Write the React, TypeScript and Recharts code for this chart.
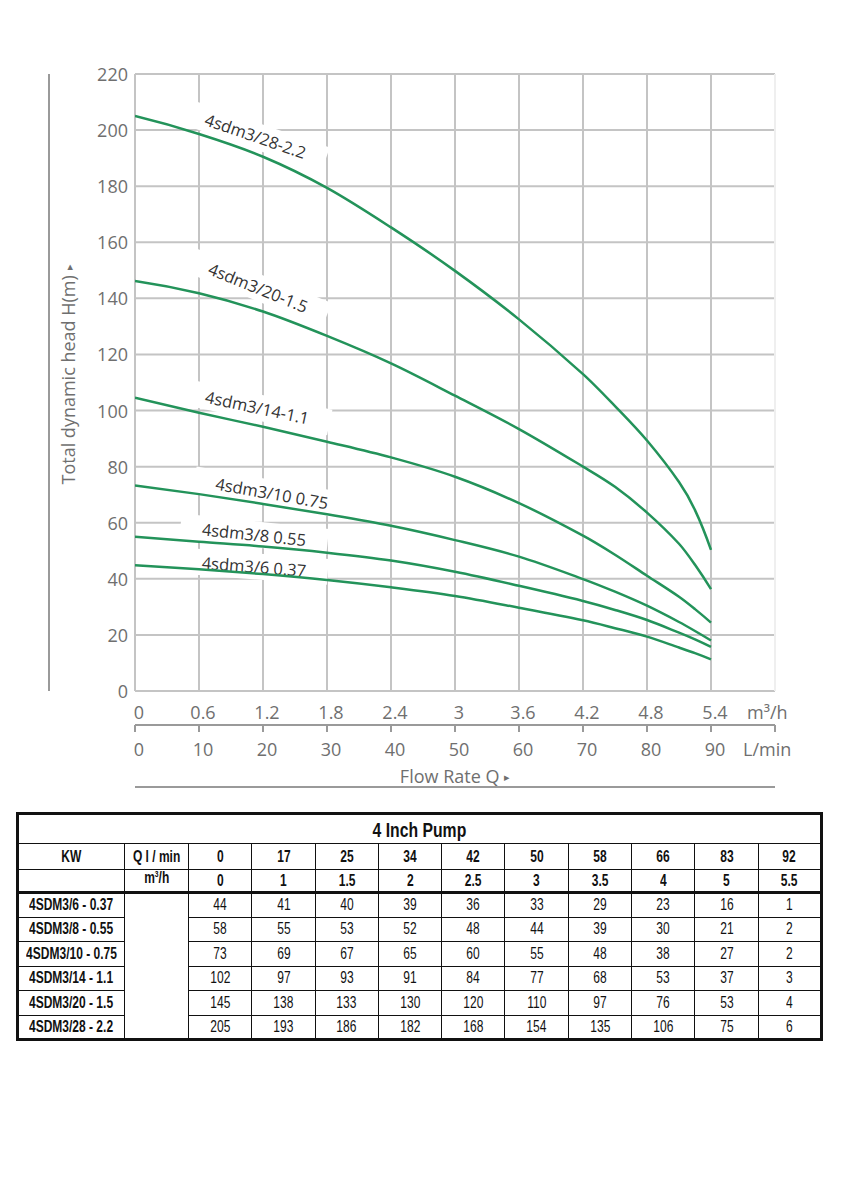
import React from "react";
import { LineChart, Line, XAxis, YAxis, CartesianGrid, ReferenceDot } from "recharts";

// flow points (m³/h)
const FLOW = [0, 0.6, 1.2, 1.8, 2.4, 3, 3.6, 4.2, 4.5, 4.8, 5.1, 5.25, 5.4];

// head (m) for each pump curve
const H_6_037 = [44.8, 43.4, 41.7, 39.6, 37, 33.9, 29.7, 25.2, 22.4, 19.4, 15.5, 13.5, 11.3];
const H_8_055 = [55, 53.2, 51.5, 49.3, 46.5, 42.5, 37.5, 32.1, 28.9, 25.3, 20.8, 18.4, 15.7];
const H_10_075 = [73.3, 70.2, 66.7, 63, 58.9, 53.8, 47.9, 39.9, 35.4, 30.4, 24.6, 21.4, 18];
const H_14_11 = [104.6, 99.2, 94.2, 88.9, 83.3, 76.4, 67, 55.4, 48.6, 41.1, 33.6, 29.2, 24.4];
const H_20_15 = [146.2, 141.8, 135.3, 126.6, 116.8, 105.3, 93.4, 80, 72.8, 63.6, 52.5, 45, 36.3];
const H_28_22 = [205, 198.6, 190.5, 179.4, 165.3, 149.8, 132.5, 113, 101.6, 89.3, 74.5, 64.5, 50.3];

const M3_TICKS = [0, 0.6, 1.2, 1.8, 2.4, 3, 3.6, 4.2, 4.8, 5.4, 6];
const M3_LABELS = ["0", "0.6", "1.2", "1.8", "2.4", "3", "3.6", "4.2", "4.8", "5.4", "m³/h"];
const LMIN_LABELS = ["0", "10", "20", "30", "40", "50", "60", "70", "80", "90", "L/min"];
const H_TICKS = [0, 20, 40, 60, 80, 100, 120, 140, 160, 180, 200, 220];

// curve tags: text, anchor (m³/h, m), tilt
const TAGS = [
  { text: "4sdm3/28-2.2", q: 1.13, h: 198, angle: 19 },
  { text: "4sdm3/20-1.5", q: 1.156, h: 143.9, angle: 22 },
  { text: "4sdm3/14-1.1", q: 1.147, h: 101.2, angle: 12 },
  { text: "4sdm3/10 0.75", q: 1.284, h: 70.6, angle: 10 },
  { text: "4sdm3/8 0.55", q: 1.116, h: 55.9, angle: 6 },
  { text: "4sdm3/6 0.37", q: 1.116, h: 44.5, angle: 4.4 },
];

// table under the chart
const TABLE_LMIN = ["0", "17", "25", "34", "42", "50", "58", "66", "83", "92"];
const TABLE_M3H = ["0", "1", "1.5", "2", "2.5", "3", "3.5", "4", "5", "5.5"];
const TABLE_MODELS = [
  "4SDM3/6 - 0.37",
  "4SDM3/8 - 0.55",
  "4SDM3/10 - 0.75",
  "4SDM3/14 - 1.1",
  "4SDM3/20 - 1.5",
  "4SDM3/28 - 2.2",
];
const TABLE_HEADS = [
  [44, 41, 40, 39, 36, 33, 29, 23, 16, 1],
  [58, 55, 53, 52, 48, 44, 39, 30, 21, 2],
  [73, 69, 67, 65, 60, 55, 48, 38, 27, 2],
  [102, 97, 93, 91, 84, 77, 68, 53, 37, 3],
  [145, 138, 133, 130, 120, 110, 97, 76, 53, 4],
  [205, 193, 186, 182, 168, 154, 135, 106, 75, 6],
];

const SERIES = [
  { key: "p6", values: H_6_037 },
  { key: "p8", values: H_8_055 },
  { key: "p10", values: H_10_075 },
  { key: "p14", values: H_14_11 },
  { key: "p20", values: H_20_15 },
  { key: "p28", values: H_28_22 },
];

const data = FLOW.map((q, i) => {
  const row: Record<string, number> = { q };
  SERIES.forEach((s) => (row[s.key] = s.values[i]));
  return row;
});

const GREEN = "#23935a";
const GRID = "#c4c4c4";
const AXIS_FONT = { fontFamily: "'Open Sans', sans-serif", fontSize: 18, fill: "#6f6f6f" };

// smooth curve through the points, tangents from neighbours (works with uneven x steps)
const smoothCurve = (context: any) => {
  let xs: number[] = [];
  let ys: number[] = [];
  return {
    areaStart() {},
    areaEnd() {},
    lineStart() {
      xs = [];
      ys = [];
    },
    point(x: number, y: number) {
      xs.push(+x);
      ys.push(+y);
    },
    lineEnd() {
      const n = xs.length;
      if (!n) return;
      context.moveTo(xs[0], ys[0]);
      if (n < 3) {
        if (n === 2) context.lineTo(xs[1], ys[1]);
        return;
      }
      const s: number[] = [];
      for (let i = 0; i < n - 1; i++) s.push((ys[i + 1] - ys[i]) / (xs[i + 1] - xs[i]));
      const m: number[] = new Array(n);
      for (let i = 1; i < n - 1; i++) m[i] = (ys[i + 1] - ys[i - 1]) / (xs[i + 1] - xs[i - 1]);
      m[0] = 2 * s[0] - m[1];
      m[n - 1] = 2 * s[n - 2] - m[n - 2];
      for (let i = 0; i < n - 1; i++) {
        const h = xs[i + 1] - xs[i];
        context.bezierCurveTo(
          xs[i] + h / 3,
          ys[i] + (m[i] * h) / 3,
          xs[i + 1] - h / 3,
          ys[i + 1] - (m[i + 1] * h) / 3,
          xs[i + 1],
          ys[i + 1]
        );
      }
    },
  };
};

// recharts stacks axes of one side by id, so ids are prefixed to set the order
const makeTick = (labels: string[], dy: number, lastShift: number) => (props: any) => {
  const { x, y, index } = props;
  const last = index === labels.length - 1;
  return (
    <text
      x={last ? x - lastShift : x + 4}
      y={y + dy}
      textAnchor={last ? "start" : "middle"}
      dominantBaseline="central"
      style={AXIS_FONT}
    >
      {labels[index]}
    </text>
  );
};
const M3Tick = makeTick(M3_LABELS, 21, 28);
const LminTick = makeTick(LMIN_LABELS, 17, 32);

const HTick = (props: any) => {
  const { x, y, payload } = props;
  return (
    <text x={x} y={y} textAnchor="end" dominantBaseline="central" style={AXIS_FONT}>
      {payload.value}
    </text>
  );
};

const renderYTitle = (props: any) => {
  const vb = props.viewBox;
  const cx = vb.x + 19;
  const cy = vb.y + vb.height / 2 - 8;
  return (
    <text
      x={cx}
      y={cy}
      transform={`rotate(-90 ${cx} ${cy})`}
      textAnchor="middle"
      dominantBaseline="central"
      style={AXIS_FONT}
    >
      Total dynamic head H(m) <tspan fontSize={11}>▸</tspan>
    </text>
  );
};

const renderXTitle = (props: any) => {
  const vb = props.viewBox;
  return (
    <text
      x={vb.x + vb.width / 2}
      y={vb.y + 51}
      textAnchor="middle"
      dominantBaseline="central"
      style={AXIS_FONT}
    >
      Flow Rate Q <tspan fontSize={11}>▸</tspan>
    </text>
  );
};

const CurveTag = ({ cx, cy, text, angle }: any) => {
  const w = text.length * 9.5 + 34;
  return (
    <g transform={`rotate(${angle} ${cx} ${cy})`}>
      <rect x={cx - w / 2} y={cy - 13} width={w} height={26} fill="#fff" />
      <text
        x={cx}
        y={cy}
        textAnchor="middle"
        dominantBaseline="central"
        style={{ fontFamily: "'Open Sans', sans-serif", fontSize: 16.5, fill: "#333" }}
      >
        {text}
      </text>
    </g>
  );
};

const cell: React.CSSProperties = {
  border: "1.5px solid #111",
  textAlign: "center",
  padding: 0,
  whiteSpace: "nowrap",
  overflow: "visible",
  lineHeight: 1,
};

// narrow, Calibri-like text
const Narrow = ({ children }: any) => (
  <span
    style={{
      display: "inline-block",
      transform: "scaleX(0.75)",
      transformOrigin: "center",
      margin: "0 -30px",
    }}
  >
    {children}
  </span>
);

function PumpTable() {
  const thick = { ...cell, borderBottom: "3px solid #111" };
  return (
    <table
      style={{
        position: "absolute",
        left: 16,
        top: 812,
        width: 807,
        borderCollapse: "collapse",
        border: "3px solid #111",
        fontFamily: "'Liberation Sans', Arial, sans-serif",
        fontSize: 16,
        color: "#111",
        tableLayout: "fixed",
      }}
    >
      <colgroup>
        <col style={{ width: 107 }} />
        <col style={{ width: 64 }} />
        {TABLE_LMIN.map((_, i) => (
          <col key={i} />
        ))}
      </colgroup>
      <tbody>
        <tr style={{ height: 30 }}>
          <td colSpan={12} style={{ ...cell, fontWeight: 700, fontSize: 21 }}>
            <Narrow>4 Inch Pump</Narrow>
          </td>
        </tr>
        <tr style={{ height: 26, fontWeight: 700 }}>
          <td style={cell}>
            <Narrow>KW</Narrow>
          </td>
          <td style={cell}>
            <Narrow>Q l / min</Narrow>
          </td>
          {TABLE_LMIN.map((v, i) => (
            <td key={i} style={cell}>
              <Narrow>{v}</Narrow>
            </td>
          ))}
        </tr>
        <tr style={{ height: 23, fontWeight: 700 }}>
          <td style={thick}></td>
          <td style={{ ...thick, verticalAlign: "top" }}>
            <Narrow>
              m<sup style={{ fontSize: 9 }}>3</sup>/h
            </Narrow>
          </td>
          {TABLE_M3H.map((v, i) => (
            <td key={i} style={thick}>
              <Narrow>{v}</Narrow>
            </td>
          ))}
        </tr>
        {TABLE_MODELS.map((m, r) => (
          <tr key={m} style={{ height: 24.5 }}>
            <td style={{ ...cell, fontWeight: 700 }}>
              <Narrow>{m}</Narrow>
            </td>
            {r === 0 && <td rowSpan={TABLE_MODELS.length} style={cell}></td>}
            {TABLE_HEADS[r].map((v, i) => (
              <td key={i} style={cell}>
                <Narrow>{v}</Narrow>
              </td>
            ))}
          </tr>
        ))}
      </tbody>
    </table>
  );
}

export default function App() {
  return (
    <div style={{ position: "absolute", left: 0, top: 0, width: 848, height: 1200, background: "#fff" }}>
      <LineChart width={848} height={800} data={data} margin={{ top: 74, right: 27, left: 0, bottom: 12 }}>
        <CartesianGrid xAxisId="a_m3" yAxisId="a_h" stroke={GRID} strokeWidth={2} />
        <XAxis
          xAxisId="a_m3"
          dataKey="q"
          type="number"
          domain={[0, 6]}
          allowDataOverflow
          ticks={M3_TICKS}
          interval={0}
          height={34}
          axisLine={false}
          tickLine={false}
          tickSize={0}
          tickMargin={0}
          tick={<M3Tick />}
        />
        <XAxis
          xAxisId="b_lmin"
          dataKey="q"
          type="number"
          domain={[0, 6]}
          allowDataOverflow
          ticks={M3_TICKS}
          interval={0}
          height={62}
          axisLine={{ stroke: "#9a9a9a", strokeWidth: 2 }}
          tickLine={{ stroke: "#9a9a9a", strokeWidth: 2 }}
          tickSize={7}
          tickMargin={0}
          tick={<LminTick />}
          label={{ content: renderXTitle }}
        />
        <XAxis
          xAxisId="c_rule"
          dataKey="q"
          type="number"
          domain={[0, 6]}
          allowDataOverflow
          height={1}
          tick={false}
          tickLine={false}
          axisLine={{ stroke: "#9a9a9a", strokeWidth: 2 }}
        />
        <YAxis
          yAxisId="a_h"
          type="number"
          domain={[0, 220]}
          allowDataOverflow
          ticks={H_TICKS}
          interval={0}
          width={86}
          axisLine={false}
          tickLine={false}
          tickSize={0}
          tickMargin={7}
          tick={<HTick />}
          label={{ content: renderYTitle }}
        />
        <YAxis
          yAxisId="b_edge"
          type="number"
          domain={[0, 220]}
          width={49}
          tick={false}
          tickLine={false}
          axisLine={{ stroke: "#9a9a9a", strokeWidth: 2 }}
        />
        <YAxis
          yAxisId="c_right"
          orientation="right"
          type="number"
          domain={[0, 220]}
          width={46}
          tick={false}
          tickLine={false}
          axisLine={{ stroke: "#efefef", strokeWidth: 2 }}
        />
        {TAGS.map((t) => (
          <ReferenceDot
            key={t.text}
            xAxisId="a_m3"
            yAxisId="a_h"
            x={t.q}
            y={t.h}
            r={0}
            zIndex={350}
            ifOverflow="visible"
            shape={(p: any) => <CurveTag cx={p.cx} cy={p.cy} text={t.text} angle={t.angle} />}
          />
        ))}
        {SERIES.map((s) => (
          <Line
            key={s.key}
            xAxisId="a_m3"
            yAxisId="a_h"
            dataKey={s.key}
            type={smoothCurve as any}
            stroke={GREEN}
            strokeWidth={2.5}
            dot={false}
            activeDot={false}
            isAnimationActive={false}
          />
        ))}
      </LineChart>
      <PumpTable />
    </div>
  );
}
